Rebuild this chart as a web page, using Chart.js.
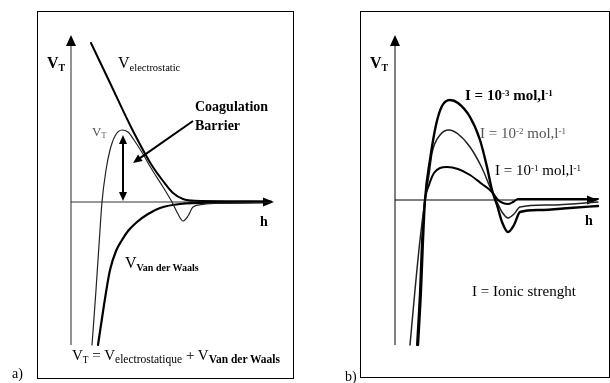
<!DOCTYPE html>
<html><head><meta charset="utf-8">
<script src="https://cdn.jsdelivr.net/npm/chart.js@4/dist/chart.umd.min.js"></script>
<style>
html,body{margin:0;padding:0;background:#fff;width:610px;height:383px;overflow:hidden;position:relative;font-family:"Liberation Serif","Times New Roman",serif;color:#000}
.box{position:absolute;border:1px solid #000;box-sizing:border-box}
.lbl{position:absolute;white-space:nowrap;line-height:1}
.sb{font-size:0.62em;position:relative;top:0.3em}
.sp{font-size:0.6em;position:relative;top:-0.45em}
canvas{position:absolute}
</style></head>
<body>
<div class="box" style="left:37px;top:11px;width:257px;height:368px"></div>
<div class="box" style="left:360px;top:11px;width:250px;height:367px"></div>
<canvas id="ca" width="230" height="330" style="left:61px;top:26px"></canvas>
<canvas id="cb" width="222" height="330" style="left:385px;top:25px"></canvas>

<!-- panel a labels -->
<div class="lbl" style="left:47px;top:55px;font-size:16px;font-weight:bold">V<span class="sb">T</span></div>
<div class="lbl" style="left:118px;top:55px;font-size:16px">V<span class="sb" style="font-size:10.5px">electrostatic</span></div>
<div class="lbl" style="left:195px;top:100px;font-size:14px;font-weight:bold">Coagulation</div>
<div class="lbl" style="left:195px;top:119px;font-size:14px;font-weight:bold">Barrier</div>
<div class="lbl" style="left:92px;top:125px;font-size:13px;color:#555">V<span class="sb">T</span></div>
<div class="lbl" style="left:260px;top:215px;font-size:14px;font-weight:bold">h</div>
<div class="lbl" style="left:125px;top:255px;font-size:16px">V<span class="sb" style="font-size:10px;font-weight:bold">Van der Waals</span></div>
<div class="lbl" style="left:72px;top:348px;font-size:15px">V<span class="sb">T</span> = V<span class="sb" style="font-size:11.5px">electrostatique</span> + V<span class="sb" style="font-size:11.5px;font-weight:bold">Van der Waals</span></div>
<div class="lbl" style="left:12px;top:367px;font-size:14px">a)</div>

<!-- panel b labels -->
<div class="lbl" style="left:370px;top:55px;font-size:16px;font-weight:bold">V<span class="sb">T</span></div>
<div class="lbl" style="left:465px;top:88px;font-size:15px;font-weight:bold">I = 10<span class="sp">-3</span> mol,l<span class="sp">-1</span></div>
<div class="lbl" style="left:480px;top:126px;font-size:15px;color:#555">I = 10<span class="sp">-2</span> mol,l<span class="sp">-1</span></div>
<div class="lbl" style="left:495px;top:163px;font-size:15px">I = 10<span class="sp">-1</span> mol,l<span class="sp">-1</span></div>
<div class="lbl" style="left:585px;top:214px;font-size:14px;font-weight:bold">h</div>
<div class="lbl" style="left:472px;top:284px;font-size:15px">I = Ionic strenght</div>
<div class="lbl" style="left:345px;top:370px;font-size:14px">b)</div>

<script>
// ---------- Panel a: energy V versus separation h (arbitrary units) ----------
const elecH  = [1.0, 2.0, 3.0, 4.0, 4.6, 5.1, 5.6, 6.2, 8.0, 10.0];
const elecV  = [7.95, 5.85, 3.75, 1.9, 1.05, 0.45, 0.15, 0.06, 0.04, 0.03];
const totalH = [1.05, 1.25, 1.45, 1.55, 1.75, 1.95, 2.2, 2.55, 2.85, 3.15, 3.6, 4.0, 4.6, 5.05, 5.35, 5.6, 5.85, 6.1, 6.6, 7.5, 10.0];
const totalV = [-7.15, -4.4, -1.4, 0, 1.6, 2.6, 3.3, 3.6, 3.5, 3.1, 2.4, 1.7, 0.75, 0, -0.6, -0.95, -0.7, -0.25, -0.12, -0.06, -0.02];
const vdwH   = [1.35, 1.65, 1.95, 2.25, 2.55, 2.85, 3.3, 3.85, 4.45, 5.45, 7.45, 9.95];
const vdwV   = [-7.15, -5.15, -3.4, -2.45, -1.9, -1.45, -1.0, -0.6, -0.3, -0.1, -0.03, -0.01];

// ---------- Panel b: V_T for three ionic strengths ----------
const i3H = [1.15, 1.3, 1.4, 1.5, 1.75, 2.05, 2.35, 2.75, 3.15, 3.75, 4.25, 4.6, 4.85, 5.1, 5.35, 5.65, 5.95, 6.25, 7.25, 8.75, 10.15];
const i3V = [-7.25, -4.5, -2.0, 0, 2.0, 3.75, 4.7, 5.0, 4.85, 4.15, 3.0, 1.65, 0.5, -0.25, -1.1, -1.6, -1.25, -0.6, -0.5, -0.4, -0.3];
const i2H = [0.75, 1.0, 1.25, 1.5, 1.7, 1.85, 2.25, 2.7, 3.15, 3.75, 4.35, 4.75, 5.05, 5.35, 5.65, 5.95, 6.25, 7.75, 10.15];
const i2V = [-7.25, -4.5, -2.0, 0, 1.25, 2.35, 3.25, 3.5, 3.3, 2.65, 1.6, 0.65, 0, -0.6, -0.9, -0.7, -0.35, -0.25, -0.1];
const i1H = [1.1, 1.25, 1.35, 1.5, 1.7, 1.95, 2.25, 2.6, 3.15, 3.75, 4.35, 4.85, 5.15, 5.4, 5.65, 5.9, 6.15, 8.25, 10.15];
const i1V = [-7.25, -4.5, -2.0, 0, 0.75, 1.35, 1.6, 1.65, 1.55, 1.25, 0.8, 0.4, 0, -0.15, -0.2, -0.1, 0.05, 0.05, 0.05];

const zip = (xs, ys) => xs.map((x, i) => ({x, y: ys[i]}));

function arrowHead(ctx, x1, y1, x2, y2, len, w) {
  const a = Math.atan2(y2 - y1, x2 - x1);
  ctx.beginPath();
  ctx.moveTo(x2, y2);
  ctx.lineTo(x2 - len * Math.cos(a) + w / 2 * Math.sin(a), y2 - len * Math.sin(a) - w / 2 * Math.cos(a));
  ctx.lineTo(x2 - len * Math.cos(a) - w / 2 * Math.sin(a), y2 - len * Math.sin(a) + w / 2 * Math.cos(a));
  ctx.closePath();
  ctx.fill();
}
function arrowLine(ctx, x1, y1, x2, y2, len, w, both) {
  const a = Math.atan2(y2 - y1, x2 - x1);
  const sx = both ? x1 + (len - 1) * Math.cos(a) : x1, sy = both ? y1 + (len - 1) * Math.sin(a) : y1;
  ctx.beginPath();
  ctx.moveTo(sx, sy);
  ctx.lineTo(x2 - (len - 1) * Math.cos(a), y2 - (len - 1) * Math.sin(a));
  ctx.stroke();
  arrowHead(ctx, x1, y1, x2, y2, len, w);
  if (both) arrowHead(ctx, x2, y2, x1, y1, len, w);
}

const axesPlugin = {
  id: 'axes',
  beforeDatasetsDraw(chart, args, o) {
    const {ctx, scales: {x, y}} = chart;
    const X = v => x.getPixelForValue(v), Y = v => y.getPixelForValue(v);
    ctx.save();
    ctx.strokeStyle = o.yColor; ctx.fillStyle = '#000'; ctx.lineWidth = o.yWidth;
    ctx.beginPath(); ctx.moveTo(X(0), Y(o.yFrom)); ctx.lineTo(X(0), Y(o.yTo) + 9); ctx.stroke();
    arrowHead(ctx, X(0), Y(0), X(0), Y(o.yTo), 11, 10);
    ctx.strokeStyle = o.xColor; ctx.lineWidth = o.xWidth;
    ctx.beginPath(); ctx.moveTo(X(0), Y(0)); ctx.lineTo(X(o.xTo) - 9, Y(0)); ctx.stroke();
    arrowHead(ctx, X(0), Y(0), X(o.xTo), Y(0), 11, 9);
    ctx.restore();
  },
  afterDatasetsDraw(chart, args, o) {
    if (!o.arrows) return;
    const {ctx, scales: {x, y}} = chart;
    ctx.save();
    ctx.strokeStyle = '#000'; ctx.fillStyle = '#000'; ctx.lineWidth = 2;
    for (const ar of o.arrows) {
      arrowLine(ctx, x.getPixelForValue(ar.from[0]), y.getPixelForValue(ar.from[1]),
                x.getPixelForValue(ar.to[0]), y.getPixelForValue(ar.to[1]), 9, 8, ar.both);
    }
    ctx.restore();
  }
};

function makeChart(id, datasets, xr, yr, axesOpts) {
  return new Chart(document.getElementById(id), {
    type: 'scatter',
    data: {datasets},
    options: {
      responsive: false, animation: false, maintainAspectRatio: false,
      layout: {padding: 0},
      elements: {point: {radius: 0, hoverRadius: 0}, line: {cubicInterpolationMode: 'monotone', borderCapStyle: 'round', borderJoinStyle: 'round'}},
      scales: {
        x: {type: 'linear', display: false, min: xr[0], max: xr[1]},
        y: {type: 'linear', display: false, min: yr[0], max: yr[1]}
      },
      plugins: {legend: {display: false}, tooltip: {enabled: false}, axes: axesOpts}
    },
    plugins: [axesPlugin]
  });
}

const ds = (d, color, w) => ({data: d, showLine: true, borderColor: color, borderWidth: w, clip: false, fill: false});

makeChart('ca', [
  ds(zip(elecH, elecV), '#000', 2),
  ds(zip(totalH, totalV), '#222', 1.2),
  ds(zip(vdwH, vdwV), '#000', 2.2)
], [-0.5, 11.0], [-7.7, 8.8], {
  yColor: '#888', yWidth: 1.8, yFrom: -7.15, yTo: 8.35,
  xColor: '#333', xWidth: 1, xTo: 10.15,
  arrows: [
    {from: [6.1, 4.05], to: [3.1, 1.95], both: false},
    {from: [2.6, 3.35], to: [2.6, 0.05], both: true}
  ]
});

makeChart('cb', [
  ds(zip(i3H, i3V), '#000', 2.4),
  ds(zip(i2H, i2V), '#222', 1.5),
  ds(zip(i1H, i1V), '#000', 2)
], [-0.5, 10.6], [-7.75, 8.75], {
  yColor: '#000', yWidth: 1, yFrom: -7.25, yTo: 8.25,
  xColor: '#000', xWidth: 1, xTo: 10.15
});
</script>
</body></html>
